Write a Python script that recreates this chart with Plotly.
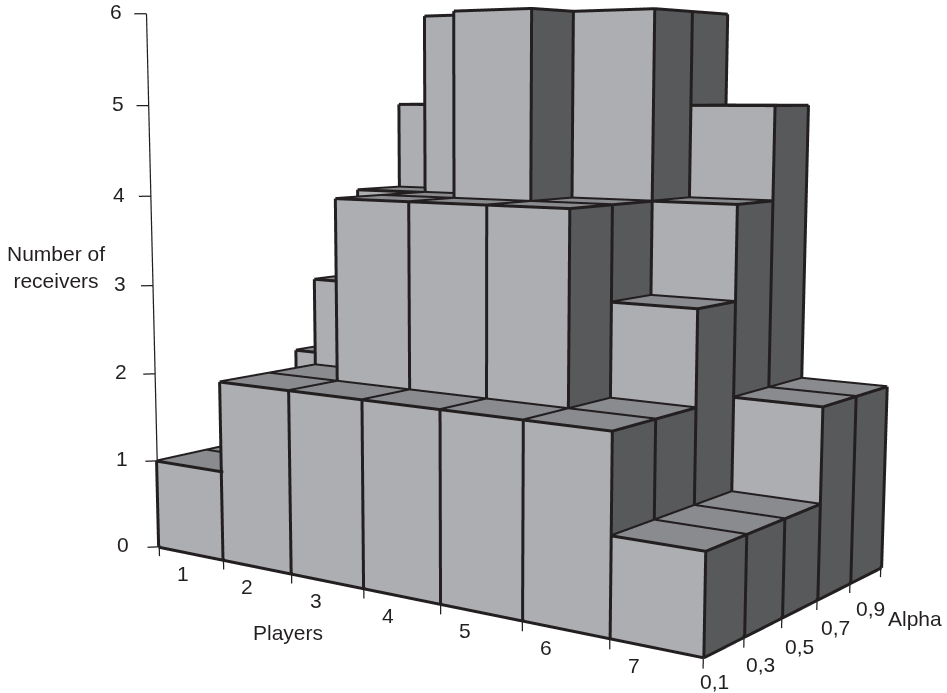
import math
import plotly.graph_objects as go

players = ["1", "2", "3", "4", "5", "6", "7"]
alphas = ["0,1", "0,3", "0,5", "0,7", "0,9"]
z_ticks = [0, 1, 2, 3, 4, 5, 6]
# receivers[player][alpha]
receivers = [
    [1, 1, 1, 2, 2],
    [2, 2, 3, 4, 5],
    [2, 4, 4, 6, 6],
    [2, 4, 6, 6, 6],
    [2, 4, 4, 6, 6],
    [2, 2, 3, 4, 5],
    [1, 1, 1, 2, 2],
]

FRONT, TOP, SIDE, INK = "#ADAEB1", "#8A8B8E", "#58595B", "#231F20"
FONT = dict(family="Liberation Sans, Arial, sans-serif", size=21, color=INK)

# geometry, in height units
W, A, k = 1.007, 0.797, 0.1
xr, yr, zr = (-0.6, 7.6), (-0.6, 5.6), (-0.5, 6.3)
beta = math.radians(54)
f = (-math.cos(beta), math.sin(beta))
r = (f[1], -f[0])
D, lat, eh = 19.9, 0.43, 2.1
tilt = math.radians(7.8)

# edges are nudged towards the eye so the flat faces do not swallow half of their width
NUDGE = 0.04
ndx, ndy, ndz = NUDGE * -f[0] / W, NUDGE * -f[1] / A, NUDGE * math.tan(tilt)

vx, vy, vz, ti, tj, tk, fc = [], [], [], [], [], [], []
ex, ey, ez = [], [], []


def quad(p, col):
    b = len(vx)
    for q in p:
        vx.append(q[0]); vy.append(q[1]); vz.append(q[2])
    for a, c, d in ((0, 1, 2), (0, 2, 3)):
        ti.append(b + a); tj.append(b + c); tk.append(b + d); fc.append(col)


def seg(a, b):
    ex.extend([a[0] + ndx, b[0] + ndx, None])
    ey.extend([a[1] + ndy, b[1] + ndy, None])
    ez.extend([a[2] + ndz, b[2] + ndz, None])


for i, row in enumerate(receivers):
    for j, h in enumerate(row):
        x0, x1, y0, y1 = i, i + 1, j, j + 1
        quad([(x0, y0, 0), (x1, y0, 0), (x1, y0, h), (x0, y0, h)], FRONT)
        quad([(x1, y0, 0), (x1, y1, 0), (x1, y1, h), (x1, y0, h)], SIDE)
        quad([(x0, y0, h), (x1, y0, h), (x1, y1, h), (x0, y1, h)], TOP)
        quad([(x0, y1, 0), (x1, y1, 0), (x1, y1, h), (x0, y1, h)], FRONT)
        quad([(x0, y0, 0), (x0, y1, 0), (x0, y1, h), (x0, y0, h)], SIDE)
        for z in (0, h):
            seg((x0, y0, z), (x1, y0, z)); seg((x1, y0, z), (x1, y1, z))
            seg((x1, y1, z), (x0, y1, z)); seg((x0, y1, z), (x0, y0, z))
        for cx, cy in ((x0, y0), (x1, y0), (x1, y1), (x0, y1)):
            seg((cx, cy, 0), (cx, cy, h))

tx, ty, tz = [], [], []


def tick(a, b):
    tx.extend([a[0], b[0], None]); ty.extend([a[1], b[1], None]); tz.extend([a[2], b[2], None])


nx, ny = len(players), len(alphas)
for i in range(nx + 1):
    tick((i, 0, 0), (i, 0, -0.11))
for j in range(ny + 1):
    tick((nx, j, 0), (nx, j, -0.11))
for z in z_ticks:
    tick((0, 0, z), (-0.09, -0.12, z))
tick((0, 0, 0), (0, 0, max(z_ticks)))

fig = go.Figure()
fig.add_trace(go.Mesh3d(x=vx, y=vy, z=vz, i=ti, j=tj, k=tk, facecolor=fc, flatshading=True,
                        lighting=dict(ambient=1, diffuse=0, specular=0, fresnel=0, roughness=1),
                        hoverinfo="skip", showscale=False))
fig.add_trace(go.Scatter3d(x=ex, y=ey, z=ez, mode="lines", line=dict(color=INK, width=6),
                           hoverinfo="skip", showlegend=False))
fig.add_trace(go.Scatter3d(x=tx, y=ty, z=tz, mode="lines", line=dict(color=INK, width=2.5),
                           hoverinfo="skip", showlegend=False))

ann = []
for i, p in enumerate(players):
    ann.append(dict(x=i, y=0, z=0, text=p, showarrow=False, font=FONT, xshift=24, yshift=-27))
alpha_dx, alpha_dy = [11, 16, 18, 18, 21], [-24, -28, -29, -28, -26]
for j, a in enumerate(alphas):
    ann.append(dict(x=nx, y=j, z=0, text=a, showarrow=False, font=FONT, xshift=alpha_dx[j], yshift=alpha_dy[j]))
for z in z_ticks:
    ann.append(dict(x=0, y=0, z=z, text=str(z), showarrow=False, font=FONT, xshift=-(36 - z * 1.0), yshift=2))

mid = lambda q: (q[0] + q[1]) / 2
asp = dict(x=(xr[1] - xr[0]) * W * k, y=(yr[1] - yr[0]) * A * k, z=(zr[1] - zr[0]) * k)


def norm(wx, wy, wz):
    return dict(x=k * (wx + (3.5 - mid(xr)) * W), y=k * (wy + (2.5 - mid(yr)) * A), z=k * (wz + (3 - mid(zr))))


E = (-D * f[0] - lat * r[0], -D * f[1] - lat * r[1], eh)
C = (-lat * r[0], -lat * r[1], eh - D * math.tan(tilt))
ax = dict(visible=False, showgrid=False, zeroline=False, showspikes=False)
fig.update_layout(
    width=947, height=693, margin=dict(l=0, r=0, t=0, b=0), paper_bgcolor="white", showlegend=False,
    scene=dict(
        domain=dict(x=[0, 1], y=[0, 1]),
        xaxis=dict(range=xr, **ax), yaxis=dict(range=yr, **ax), zaxis=dict(range=zr, **ax),
        aspectmode="manual", aspectratio=asp,
        camera=dict(eye=norm(*E), center=norm(*C), up=dict(x=0, y=0, z=1)),
        annotations=ann, bgcolor="white",
    ),
)
common = dict(xref="paper", yref="paper", showarrow=False, font=FONT, xanchor="center", yanchor="middle")
fig.layout.annotations = [
    dict(x=288 / 947, y=1 - 632 / 693, text="Players", **common),
    dict(x=915 / 947, y=1 - 618 / 693, text="Alpha", **common),
    dict(x=56 / 947, y=1 - 267 / 693, text="Number of<br>receivers", **common),
]

post = """
document.body.style.margin = '0';
var gd = document.getElementById('{plot_id}');
var s = gd._fullLayout.scene._scene;
s.glplot.fovy = 2 * Math.atan(346.5 / 1825);
s.glplot.redraw();
"""
fig.write_html("out.html", post_script=post, config=dict(displayModeBar=False))
